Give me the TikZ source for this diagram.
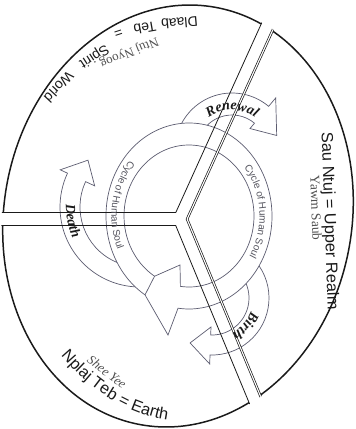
\documentclass[tikz,border=0pt]{standalone}
\usepackage{fontspec}
\setmainfont{Liberation Serif}
\setsansfont{Liberation Sans}
\usetikzlibrary{decorations.text}
\definecolor{ink}{HTML}{1A1A1A}
\definecolor{soulline}{HTML}{5C5C70}
\definecolor{soultext}{HTML}{55555F}
\definecolor{subtext}{HTML}{505050}

\begin{document}
\begin{tikzpicture}[x=1pt,y=-1pt,
  realm/.style={font=\sffamily\fontsize{16.3}{18}\selectfont,text=ink,inner sep=0pt},
  spiritw/.style={realm,font=\sffamily\fontsize{14}{16}\selectfont},
  sub/.style={font=\fontsize{13.5}{15}\selectfont,text=subtext,inner sep=0pt},
  band/.style={draw=soulline,line width=0.7pt,fill=white,line join=miter},
  spoke/.style={draw=ink,line width=0.8pt},
  spokeb/.style={draw=ink,line width=0.7pt,double,double distance=1.1pt},
  curved/.style={decorate,decoration={text along path,text align=center,text color=#1}}]
\useasboundingbox (0,0) rectangle (356,429);
\coordinate (world) at (178,216);
\coordinate (soul) at (189,216);
\coordinate (rnw) at (232,150);
\coordinate (brt) at (212,298);
\coordinate (dth) at (140,207);
\coordinate (v1) at (175.8,212.5);
\coordinate (v2) at (175.7,225.5);
\coordinate (v3) at (187.1,219.1);
\coordinate (ul) at (266.6,12.1);
\coordinate (ur) at (277.9,18.7);
\coordinate (ll) at (259.9,428.8);
\coordinate (lr) at (271.4,422.4);
\coordinate (lt) at (-5,212.5);
\coordinate (lb) at (-5,225.5);

\begin{scope}[shift={(world)},rotate=-10]
\draw[ink,line width=1.5pt] (0,0) ellipse [x radius=174,y radius=212];
\clip (0,0) ellipse [x radius=176,y radius=214];
\fill[white] (lt) -- (v1) -- (ul) -- (ur) -- (v3) -- (lr) -- (ll) -- (v2) -- (lb) -- cycle;
\end{scope}

\draw[band] ([shift={(200:57)}]rnw) arc[start angle=200,end angle=310,radius=57] -- ([shift={(310:68)}]rnw) -- ([shift={(342:47)}]rnw) -- ([shift={(310:28)}]rnw) -- ([shift={(310:35)}]rnw) arc[start angle=310,end angle=200,radius=35] -- cycle;
\draw[band] ([shift={(-40:57)}]brt) arc[start angle=-40,end angle=92,radius=57] -- ([shift={(92:66)}]brt) -- ([shift={(116:50)}]brt) -- ([shift={(92:29)}]brt) -- ([shift={(92:37)}]brt) arc[start angle=92,end angle=-40,radius=37] -- cycle;
\draw[band] ([shift={(88:80)}]dth) arc[start angle=88,end angle=205,radius=80] -- ([shift={(205:88)}]dth) -- ([shift={(222:70)}]dth) -- ([shift={(205:50)}]dth) -- ([shift={(205:60)}]dth) arc[start angle=205,end angle=88,radius=60] -- cycle;

\draw[band,even odd rule] ([shift={(122:83 and 93)}]soul) arc[start angle=122,end angle=457.6,x radius=83,y radius=93] -- (168,335) -- cycle
  ([shift={(122:65 and 71)}]soul) -- (180,265) -- ([shift={(97.6:65 and 71)}]soul) arc[start angle=457.6,end angle=122,x radius=65,y radius=71] -- cycle;
\draw[soulline,line width=0.7pt] ([shift={(122:83 and 93)}]soul) -- ([shift={(122:65 and 71)}]soul);

\begin{scope}
\clip[shift={(world)},rotate=-10] (0,0) ellipse [x radius=175.5,y radius=213.5];
\draw[spoke] (lt) -- (v1) -- (ul);
\draw[spoke] (lb) -- (v2) -- (ll);
\draw[spokeb] (ur) -- (v3) -- (lr);
\end{scope}

\path[curved=soultext,decoration={text={|\sffamily\fontsize{10}{12}\selectfont|Cycle of Human Soul}}] ([shift={(-64:70.5 and 78)}]soul) arc[start angle=-64,end angle=56,x radius=70.5,y radius=78];
\path[curved=soultext,decoration={text={|\sffamily\fontsize{10}{12}\selectfont|Cycle of Human Soul}}] ([shift={(249:77.5 and 86)}]soul) arc[start angle=249,end angle=129,x radius=77.5,y radius=86];
\path[curved=ink,decoration={text={|\bfseries\itshape\fontsize{14}{16}\selectfont|Renewal}}] ([shift={(215:40)}]rnw) arc[start angle=215,end angle=325,radius=40];
\path[curved=ink,decoration={text={|\bfseries\itshape\fontsize{14}{16}\selectfont|Birth}}] ([shift={(-5:41)}]brt) arc[start angle=-5,end angle=85,radius=41];
\path[curved=ink,decoration={text={|\bfseries\itshape\fontsize{14}{16}\selectfont|Death}}] ([shift={(205:74)}]dth) arc[start angle=205,end angle=132,radius=74];

\node[spiritw,rotate=185] (dlaab) at (179.5,23) {Dlaab};
\node[spiritw,rotate=190] (teb) at (145,28) {Teb};
\node[spiritw,rotate=198] (eqs) at (118,32) {=};
\node[spiritw,rotate=213] (spirit) at (94,56) {Spirit};
\node[spiritw,rotate=227] (wrld) at (59,87) {World};
\path[curved=ink,decoration={text={|\sffamily\fontsize{16.3}{18}\selectfont|Nplaj Teb = Earth}}] plot[domain=0:80,samples=49,variable=\s] ({178+169*cos(164-\s)*cos(10)+207*sin(164-\s)*sin(10)},{216-169*cos(164-\s)*sin(10)+207*sin(164-\s)*cos(10)});
\node[realm,rotate=-88] (upper) at (329,221) {Sau Ntuj = Upper Realm};
\node[sub,rotate=-88] (yawm) at (316,208) {Yawm Saub};
\node[sub,font=\fontsize{13}{15}\selectfont,rotate=202] (nyoog) at (129,52) {Ntuj Nyoog};
\node[sub,font=\itshape\fontsize{13}{15}\selectfont,rotate=-38] (yee) at (107,372) {Shee Yee};
\end{tikzpicture}
\end{document}
